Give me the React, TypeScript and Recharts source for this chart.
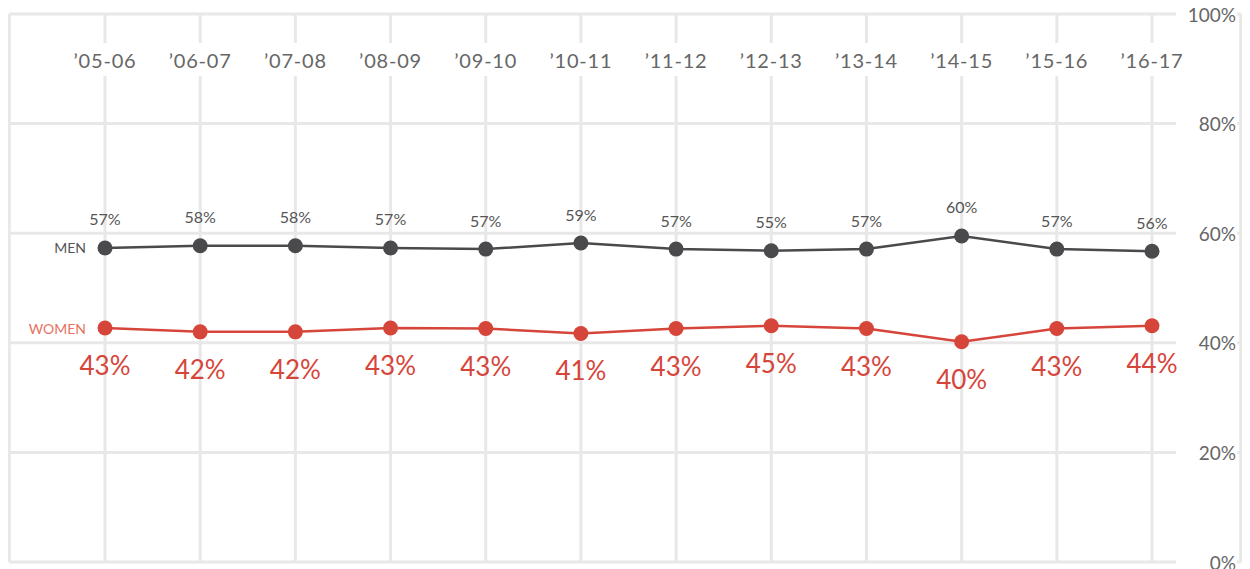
import React from "react";
import { LineChart, Line, XAxis, YAxis, CartesianGrid } from "recharts";

const categories = ["’05-06", "’06-07", "’07-08", "’08-09", "’09-10", "’10-11", "’11-12", "’12-13", "’13-14", "’14-15", "’15-16", "’16-17"];
const menValues = [57.3, 57.7, 57.7, 57.3, 57.1, 58.2, 57.1, 56.8, 57.1, 59.5, 57.1, 56.7];
const womenValues = [42.7, 42.0, 42.0, 42.7, 42.6, 41.7, 42.6, 43.1, 42.6, 40.2, 42.6, 43.1];
const menLabels = ["57%", "58%", "58%", "57%", "57%", "59%", "57%", "55%", "57%", "60%", "57%", "56%"];
const womenLabels = ["43%", "42%", "42%", "43%", "43%", "41%", "43%", "45%", "43%", "40%", "43%", "44%"];
const yTicks = [0, 20, 40, 60, 80, 100];
const yTickLabels = ["0%", "20%", "40%", "60%", "80%", "100%"];

const data = categories.map((c, i) => ({ cat: c, men: menValues[i], women: womenValues[i] }));

const FONT = "Lato, 'Open Sans', sans-serif";
const GRID = "#e8e8e8";
const MEN = "#4a4a4d";
const WOMEN = "#d6453a";
// chart svg sits at page offset (8, 8) because of the body margin
const OFF = 8;

const XTick = (props: any) => {
  const { x, payload } = props;
  return (
    <g>
      <rect x={x - 36} y={43 - OFF} width={72} height={33} fill="#fff" />
      <text x={x} y={60 - OFF} textAnchor="middle" dominantBaseline="central" fontFamily={FONT} fontSize={20} letterSpacing={0.8} fill="#666">
        {payload.value}
      </text>
    </g>
  );
};

const YTick = (props: any) => {
  const { y, payload } = props;
  const idx = yTicks.indexOf(payload.value);
  return (
    <g>
      <rect x={1176 - OFF} y={y - 6} width={61} height={12} fill="#fff" />
      <text x={1236 - OFF} y={y} textAnchor="end" dominantBaseline="central" fontFamily={FONT} fontSize={19} fill="#666">
        {yTickLabels[idx]}
      </text>
    </g>
  );
};

const makeLabel = (labels: string[], name: string, color: string, nameColor: string, dy: number, size: number) => (props: any) => {
  const { x, y, index } = props;
  return (
    <g key={`lbl-${name}-${index}`}>
      <text x={x} y={y + dy} textAnchor="middle" dominantBaseline="central" fontFamily={FONT} fontSize={size} fill={color}>
        {labels[index]}
      </text>
      {index === 0 ? (
        <text x={x - 19} y={y} textAnchor="end" dominantBaseline="central" fontFamily={FONT} fontSize={14} fill={nameColor}>
          {name}
        </text>
      ) : null}
    </g>
  );
};

export default function App() {
  return (
    <div style={{ width: 1234, height: 561 }}>
      <style>{"svg.recharts-surface { overflow: visible; }"}</style>
      <LineChart width={1234} height={561} data={data} margin={{ top: 5, right: 0, left: 0, bottom: 7 }}>
        <CartesianGrid yAxisId="r" stroke={GRID} strokeWidth={3} />
        <XAxis
          dataKey="cat"
          orientation="top"
          height={1}
          axisLine={false}
          tickLine={false}
          padding={{ left: 96, right: 89 }}
          tick={<XTick />}
          interval={0}
        />
        <YAxis yAxisId="l" orientation="left" width={1} tick={false} tickLine={false} axisLine={{ stroke: GRID, strokeWidth: 3 }} domain={[0, 100]} />
        <YAxis
          yAxisId="r"
          orientation="right"
          width={1}
          domain={[0, 100]}
          ticks={yTicks}
          tickLine={false}
          axisLine={{ stroke: GRID, strokeWidth: 3 }}
          tick={<YTick />}
          interval={0}
        />
        <Line
          yAxisId="r"
          dataKey="men"
          stroke={MEN}
          strokeWidth={2.5}
          dot={{ r: 7.5, fill: MEN, stroke: "none" }}
          activeDot={false}
          isAnimationActive={false}
          label={makeLabel(menLabels, "MEN", "#555", "#555", -29, 16)}
        />
        <Line
          yAxisId="r"
          dataKey="women"
          stroke={WOMEN}
          strokeWidth={2.5}
          dot={{ r: 7.5, fill: WOMEN, stroke: "none" }}
          activeDot={false}
          isAnimationActive={false}
          label={makeLabel(womenLabels, "WOMEN", WOMEN, "#e5735f", 37, 26)}
        />
      </LineChart>
    </div>
  );
}
